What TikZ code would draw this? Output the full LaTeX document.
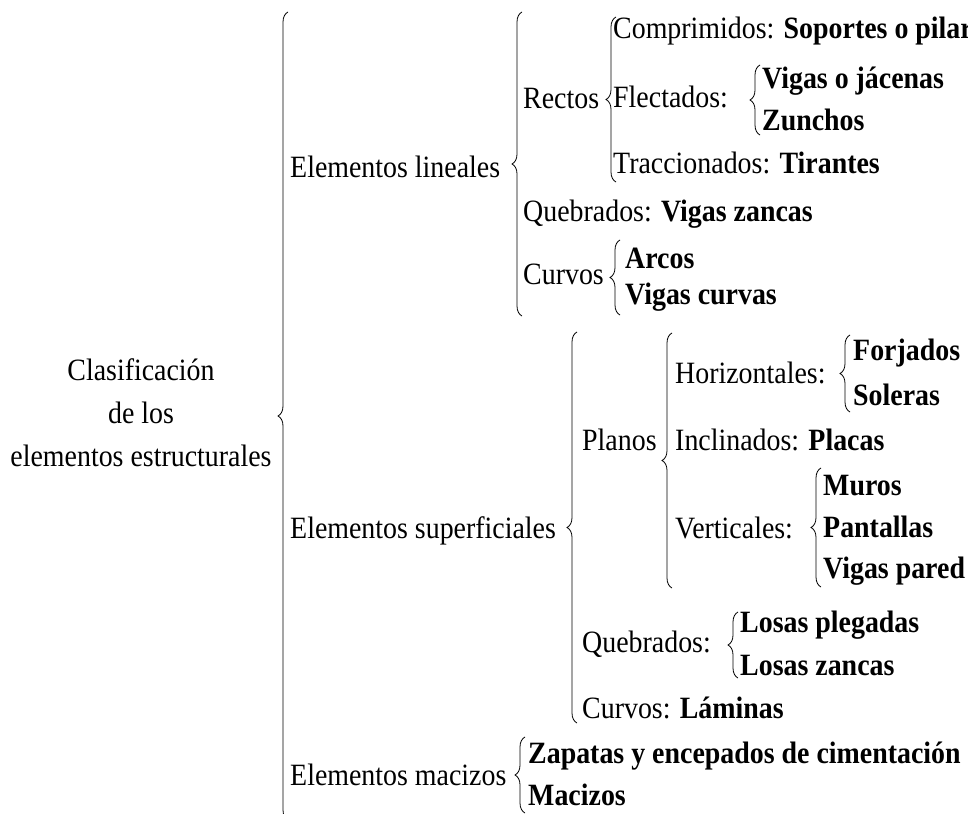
\documentclass[tikz,border=0pt]{standalone}
\usepackage{fontspec}
\setmainfont{Liberation Serif}[FakeStretch=0.9]
\usetikzlibrary{decorations.pathreplacing}

\begin{document}
\begin{tikzpicture}[x=1pt, y=-1pt,
    every node/.style={inner sep=0pt, font=\fontsize{31}{43}\selectfont},
    lbl/.style={anchor=west, text height=20.5pt, text depth=0pt},
    brc/.style={decorate, decoration={brace, amplitude=10pt}, line width=0.8pt}]
    \useasboundingbox (0, 0) rectangle (968, 813);

    % Root
    \node[align=center] (clas) at (141, 413) {Clasificación\\de los\\elementos estructurales};
    \draw[brc] (288, 820) -- (288, 12);

    % First level
    \node[lbl] (lin) at (290, 167) {Elementos lineales};
    \node[lbl] (sup) at (290, 528) {Elementos superficiales};
    \node[lbl] (mac) at (290, 775) {Elementos macizos};

    % Lineales
    \draw[brc] (522, 316) -- (522, 12);
    \node[lbl] (rec) at (523, 98) {Rectos};
    \node[lbl] (queba) at (523, 211) {Quebrados: \textbf{Vigas zancas}};
    \node[lbl] (curva) at (523, 274) {Curvos};

    % Rectos
    \draw[brc] (616, 182) -- (616, 17);
    \node[lbl] (comp) at (613, 28) {Comprimidos: \textbf{Soportes o pilares}};
    \node[lbl] (flec) at (613, 97) {Flectados:};
    \node[lbl] (trac) at (613, 163) {Traccionados: \textbf{Tirantes}};

    \draw[brc] (760, 135) -- (760, 65);
    \node[lbl] (vig) at (762, 78) {\textbf{Vigas o jácenas}};
    \node[lbl] (zun) at (762, 120) {\textbf{Zunchos}};

    % Curvos
    \draw[brc] (620, 315) -- (620, 240);
    \node[lbl] (arc) at (625, 258) {\textbf{Arcos}};
    \node[lbl] (vcur) at (625, 294) {\textbf{Vigas curvas}};

    % Superficiales
    \draw[brc] (577, 723) -- (577, 332);
    \node[lbl] (plan) at (582, 440) {Planos};
    \node[lbl] (quebb) at (582, 642) {Quebrados:};
    \node[lbl] (curvb) at (582, 708) {Curvos: \textbf{Láminas}};

    % Planos
    \draw[brc] (672, 588) -- (672, 333);
    \node[lbl] (hor) at (675, 373) {Horizontales:};
    \node[lbl] (inc) at (675, 440) {Inclinados: \textbf{Placas}};
    \node[lbl] (ver) at (675, 528) {Verticales:};

    \draw[brc] (850, 412) -- (850, 335);
    \node[lbl] (forj) at (853, 350) {\textbf{Forjados}};
    \node[lbl] (sol) at (853, 395) {\textbf{Soleras}};

    \draw[brc] (821, 587) -- (821, 468);
    \node[lbl] (mur) at (823, 485) {\textbf{Muros}};
    \node[lbl] (pan) at (823, 527) {\textbf{Pantallas}};
    \node[lbl] (vpar) at (823, 568) {\textbf{Vigas pared}};

    % Quebrados
    \draw[brc] (738, 678) -- (738, 612);
    \node[lbl] (losp) at (740, 622) {\textbf{Losas plegadas}};
    \node[lbl] (losz) at (740, 665) {\textbf{Losas zancas}};

    % Macizos
    \draw[brc] (525, 813) -- (525, 737);
    \node[lbl] (zap) at (528, 753) {\textbf{Zapatas y encepados de cimentación}};
    \node[lbl] (maci) at (528, 795) {\textbf{Macizos}};
\end{tikzpicture}
\end{document}
